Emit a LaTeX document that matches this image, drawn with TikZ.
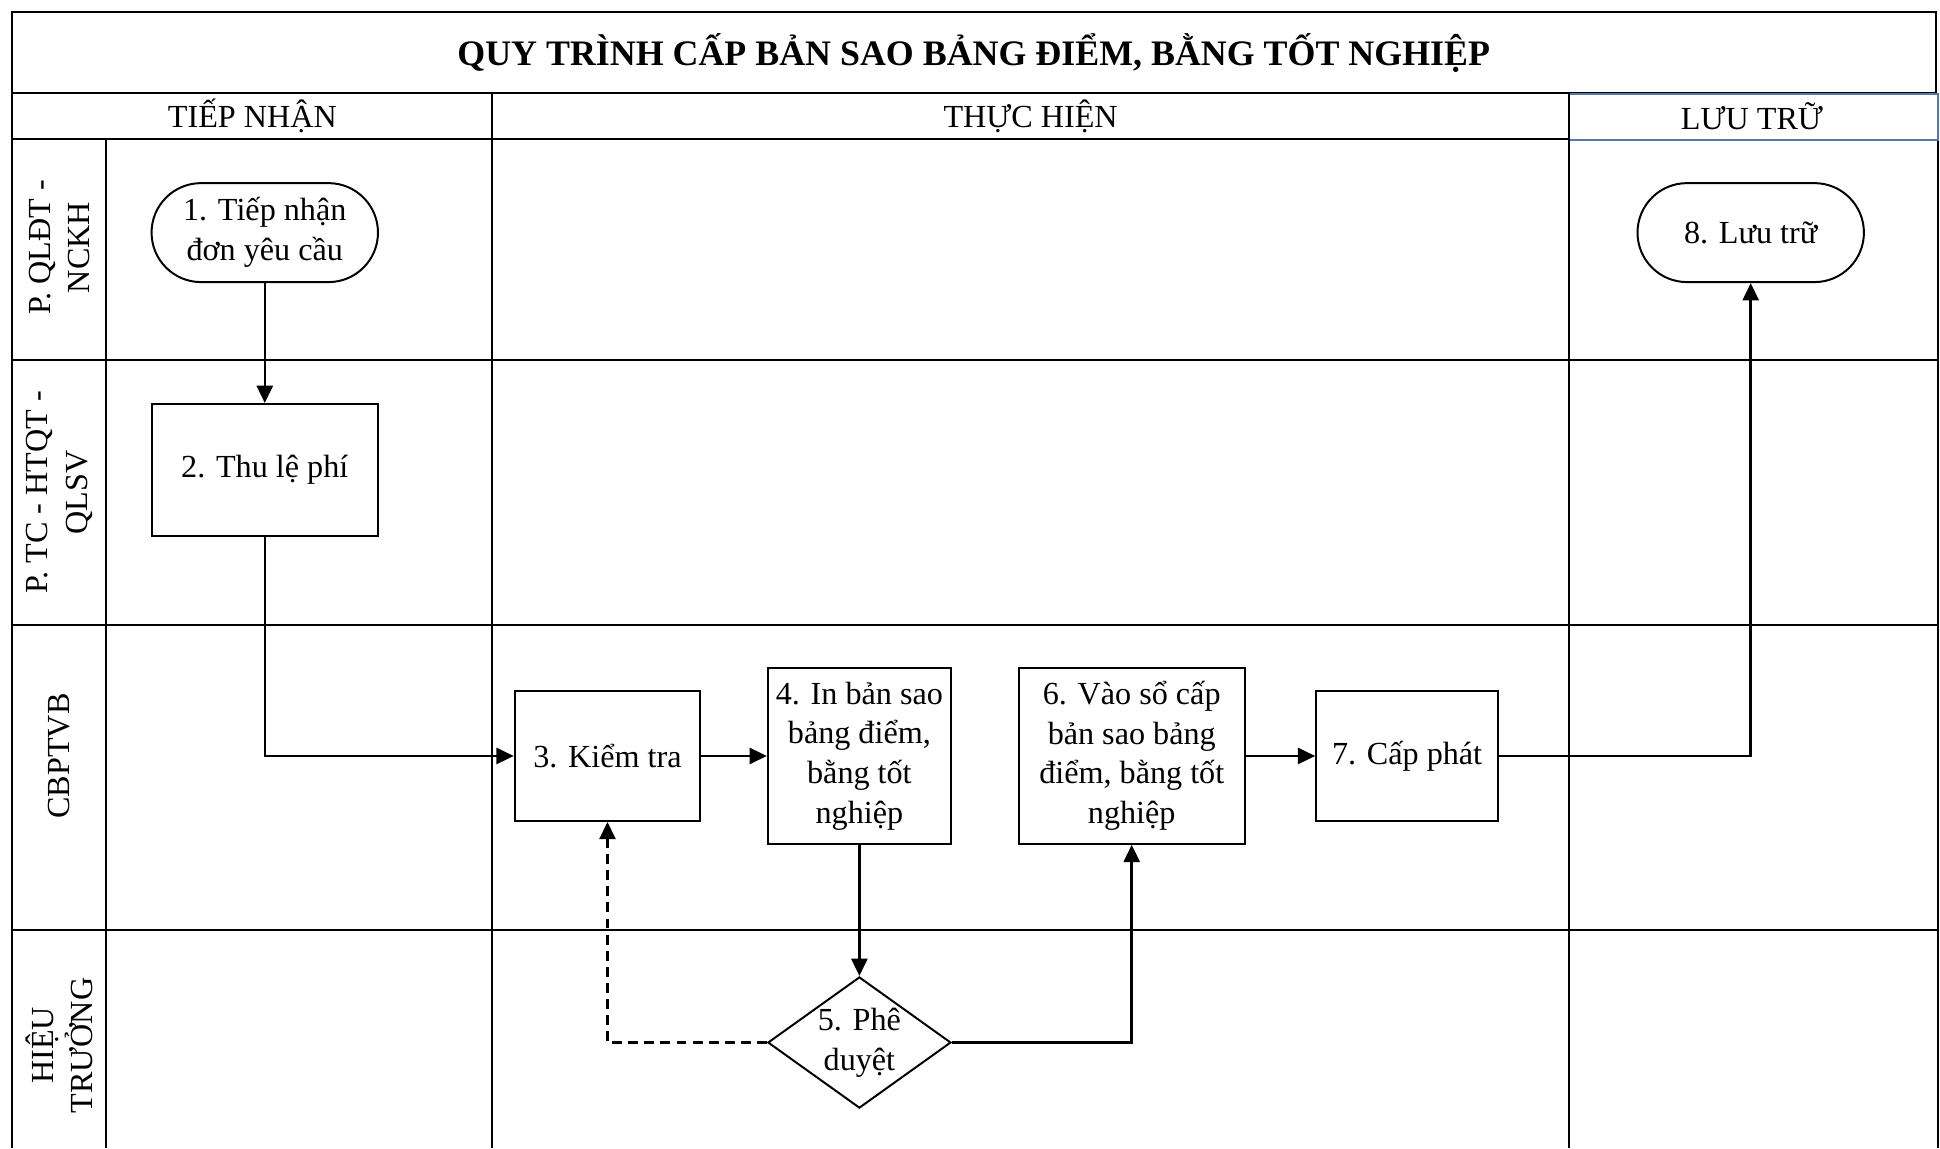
\documentclass[tikz,border=0pt]{standalone}
\usepackage{fontspec}
\setmainfont{Liberation Serif}
\usetikzlibrary{arrows.meta,shapes.geometric,positioning}
\definecolor{hdrblue}{RGB}{84,120,170}

\begin{document}
\begin{tikzpicture}[x=0.5pt,y=-0.5pt]
      \tikzset{
        font=\fontsize{13}{16}\selectfont,
        lane/.style={line width=0.8pt},
        box/.style={draw,line width=0.8pt,align=center,inner sep=0pt},
        terminal/.style={box,rounded corners=20pt,minimum width=91.5pt,minimum height=40pt},
        decision/.style={box,diamond,aspect=1.4,minimum width=74pt,minimum height=53pt},
        flow/.style={line width=1pt,-{Triangle[length=7pt,width=6.5pt]}},
        lanelabel/.style={rotate=90,align=center}
      }
      \useasboundingbox (0,0) rectangle (1568,928);

      % frame and lanes
      \draw[lane] (10,928) -- (10,10) -- (1565,10) -- (1565,75);
      \draw[lane] (10,75) -- (1565,75);
      \draw[lane] (10,112) -- (1268,112);
      \draw[lane] (1566,113) -- (1566,928);
      \draw[hdrblue,line width=0.8pt] (1268,76) rectangle (1566,113);
      \draw[lane] (86,112) -- (86,928);
      \draw[lane] (398,75) -- (398,928);
      \draw[lane] (1268,75) -- (1268,928);
      \draw[lane] (10,291) -- (1566,291);
      \draw[lane] (10,505) -- (1566,505);
      \draw[lane] (10,752) -- (1566,752);

      \node (title) at (787,43) {\fontsize{14.5}{17}\selectfont\bfseries QUY TRÌNH CẤP BẢN SAO BẢNG ĐIỂM, BẰNG TỐT NGHIỆP};
      \node (hrecv) at (204,94) {TIẾP NHẬN};
      \node (hdo) at (833,94) {THỰC HIỆN};
      \node (hstore) at (1416,94) {LƯU TRỮ};

      \node[lanelabel] (l1) at (48,200) {P. QLĐT -\\NCKH};
      \node[lanelabel] (l2) at (48,398) {P. TC - HTQT -\\QLSV};
      \node[lanelabel] (l3) at (48,611) {CBPTVB};
      \node[lanelabel] (l4) at (48,845) {HIỆU\\TRƯỞNG};

      % steps
      \node[terminal] (p1) at (214,188) {1. Tiếp nhận\\đơn yêu cầu};
      \node[box,minimum width=91.5pt,minimum height=53.5pt] (p2) at (214,380) {2. Thu lệ phí};
      \node[box,minimum width=75pt,minimum height=52.5pt] (p3) at (491,611) {3. Kiểm tra};
      \node[box,minimum width=74pt,minimum height=71pt,right=26.5pt of p3] (p4) {4. In bản sao\\bảng điểm,\\bằng tốt\\nghiệp};
      \node[decision,below=53pt of p4] (p5) {5. Phê\\duyệt};
      \node[box,minimum width=91.5pt,minimum height=71pt,right=26.5pt of p4] (p6) {6. Vào sổ cấp\\bản sao bảng\\điểm, bằng tốt\\nghiệp};
      \node[box,minimum width=73.5pt,minimum height=52.5pt,right=28pt of p6] (p7) {7. Cấp phát};
      \node[terminal] (p8) at (1415,188) {8. Lưu trữ};

      \draw[flow] (p1) -- (p2);
      \draw[flow] (p2) |- (p3);
      \draw[flow] (p3) -- (p4);
      \draw[flow] (p4) -- (p5);
      \draw[flow] (p5) -| (p6);
      \draw[flow,dash pattern=on 4pt off 2.5pt] (p5) -| (p3);
      \draw[flow] (p6) -- (p7);
      \draw[flow] (p7) -| (p8);
    \end{tikzpicture}
\end{document}
